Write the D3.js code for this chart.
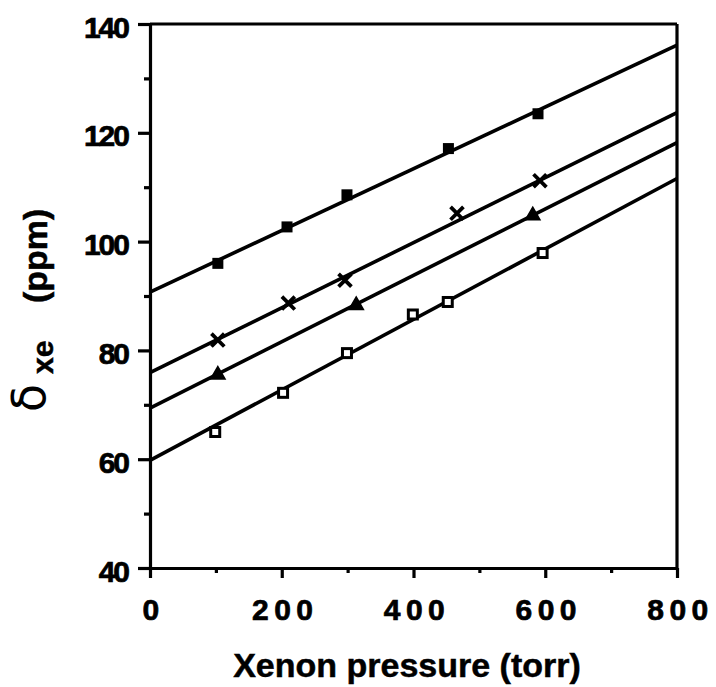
<!DOCTYPE html>
<html>
<head>
<meta charset="utf-8">
<script src="https://cdn.jsdelivr.net/npm/d3@7"></script>
<style>
  html, body { margin: 0; padding: 0; background: #fff; }
  svg { display: block; }
  text { font-family: "Liberation Sans", Arial, Helvetica, sans-serif; fill: #000; }
</style>
</head>
<body>
<svg id="chart" width="716" height="687"></svg>
<script>
// ---- data ----
const xMajorTicks = [0, 200, 400, 600, 800];
const xMinorTicks = [100, 300, 500, 700];
const yMajorTicks = [40, 60, 80, 100, 120, 140];
const yMinorTicks = [50, 70, 90, 110, 130];

// series 1: filled squares
const sqFilledX = [103, 208, 299, 453, 589];
const sqFilledY = [96.0, 102.7, 108.6, 117.1, 123.5];
// series 2: crosses
const crossX = [103, 210, 296, 466, 592];
const crossY = [81.9, 88.7, 92.9, 105.2, 111.2];
// series 3: filled triangles
const triX = [103, 313, 581];
const triY = [75.5, 88.3, 104.8];
// series 4: open squares
const sqOpenX = [99, 202, 299, 399, 452, 596];
const sqOpenY = [65.0, 72.2, 79.5, 86.6, 88.9, 97.9];

// fitted lines: value at 0 torr and at 800 torr
const fitStart = [90.7, 75.9, 69.4, 59.8];
const fitEnd = [136.1, 123.7, 118.2, 111.6];
const fitRange = [0, 800];

// ---- drawing ----
const svg = d3.select("#chart");
const x = d3.scaleLinear().domain([0, 800]).range([150, 677]);
const y = d3.scaleLinear().domain([40, 140]).range([568, 24]);

const axisColor = "#000";
const axisW = 3.2;

// X axis (major + minor)
const gx = svg.append("g").attr("transform", `translate(0,${y(40)})`)
  .call(d3.axisBottom(x).tickValues(xMajorTicks).tickSize(10).tickSizeOuter(0).tickPadding(0).tickFormat(d3.format("d")));
gx.select(".domain").attr("stroke", axisColor).attr("stroke-width", axisW);
gx.selectAll(".tick line").attr("stroke", axisColor).attr("stroke-width", axisW);
gx.selectAll(".tick text")
  .attr("y", 0).attr("dy", 52)
  .attr("dx", 3)
  .attr("stroke", "#000").attr("stroke-width", 0.7)
  .style("font-size", "30px").style("font-weight", "bold").style("letter-spacing", "5.5px");

const gxm = svg.append("g").attr("transform", `translate(0,${y(40)})`)
  .call(d3.axisBottom(x).tickValues(xMinorTicks).tickSize(5).tickSizeOuter(0).tickFormat(""));
gxm.select(".domain").remove();
gxm.selectAll(".tick line").attr("stroke", axisColor).attr("stroke-width", axisW);

// Y axis (major + minor)
const gy = svg.append("g").attr("transform", `translate(${x(0)},0)`)
  .call(d3.axisLeft(y).tickValues(yMajorTicks).tickSize(12).tickSizeOuter(0).tickPadding(0).tickFormat(d3.format("d")));
gy.select(".domain").attr("stroke", axisColor).attr("stroke-width", axisW);
gy.selectAll(".tick line").attr("stroke", axisColor).attr("stroke-width", axisW);
gy.selectAll(".tick text")
  .attr("x", -22).attr("dy", 13)
  .attr("stroke", "#000").attr("stroke-width", 0.7)
  .style("font-size", "30px").style("font-weight", "bold").style("letter-spacing", "-2px");

const gym = svg.append("g").attr("transform", `translate(${x(0)},0)`)
  .call(d3.axisLeft(y).tickValues(yMinorTicks).tickSize(6).tickSizeOuter(0).tickFormat(""));
gym.select(".domain").remove();
gym.selectAll(".tick line").attr("stroke", axisColor).attr("stroke-width", axisW);

// frame: top & right
svg.append("line").attr("x1", x(0)).attr("x2", x(800)).attr("y1", y(140)).attr("y2", y(140))
  .attr("stroke", axisColor).attr("stroke-width", axisW);
svg.append("line").attr("x1", x(800)).attr("x2", x(800)).attr("y1", y(140)).attr("y2", y(40))
  .attr("stroke", axisColor).attr("stroke-width", axisW);

// fitted lines
const fitData = fitStart.map((s, i) => [[fitRange[0], s], [fitRange[1], fitEnd[i]]]);
const lineGen = d3.line().x(d => x(d[0])).y(d => y(d[1]));
svg.append("g").selectAll("path").data(fitData).join("path")
  .attr("d", lineGen).attr("fill", "none").attr("stroke", "#000").attr("stroke-width", 3.6);

// markers
const zip = (xs, ys) => xs.map((v, i) => [v, ys[i]]);

svg.append("g").selectAll("rect").data(zip(sqFilledX, sqFilledY)).join("rect")
  .attr("x", d => x(d[0]) - 5.5).attr("y", d => y(d[1]) - 5.5)
  .attr("width", 11).attr("height", 11).attr("fill", "#000");

svg.append("g").selectAll("path").data(zip(crossX, crossY)).join("path")
  .attr("transform", d => `translate(${x(d[0])},${y(d[1])})`)
  .attr("d", d3.symbol(d3.symbolTimes, 110)())
  .attr("fill", "none").attr("stroke", "#000").attr("stroke-width", 3.8);

svg.append("g").selectAll("path").data(zip(triX, triY)).join("path")
  .attr("transform", d => `translate(${x(d[0])},${y(d[1])})`)
  .attr("d", d3.symbol(d3.symbolTriangle, 90)())
  .attr("fill", "#000").attr("stroke", "#000").attr("stroke-width", 1.5);

svg.append("g").selectAll("rect").data(zip(sqOpenX, sqOpenY)).join("rect")
  .attr("x", d => x(d[0]) - 4.5).attr("y", d => y(d[1]) - 4.5)
  .attr("width", 9).attr("height", 9)
  .attr("fill", "#fff").attr("stroke", "#000").attr("stroke-width", 3);

// axis titles
svg.append("text").attr("x", 407).attr("y", 677).attr("text-anchor", "middle")
  .attr("stroke", "#000").attr("stroke-width", 0.5)
  .style("font-size", "34px").style("font-weight", "bold")
  .text("Xenon pressure (torr)");

svg.append("text").attr("transform", "translate(45,412) rotate(-90)")
  .style("font-family", "'DejaVu Sans', sans-serif").style("font-size", "46px")
  .text("δ");
svg.append("text").attr("transform", "translate(53,374) rotate(-90)")
  .attr("stroke", "#000").attr("stroke-width", 0.5)
  .style("font-size", "30px").style("font-weight", "bold")
  .text("xe");
svg.append("text").attr("transform", "translate(47,303) rotate(-90)")
  .attr("stroke", "#000").attr("stroke-width", 0.5)
  .style("font-size", "34px").style("font-weight", "bold")
  .text("(ppm)");
</script>
</body>
</html>
